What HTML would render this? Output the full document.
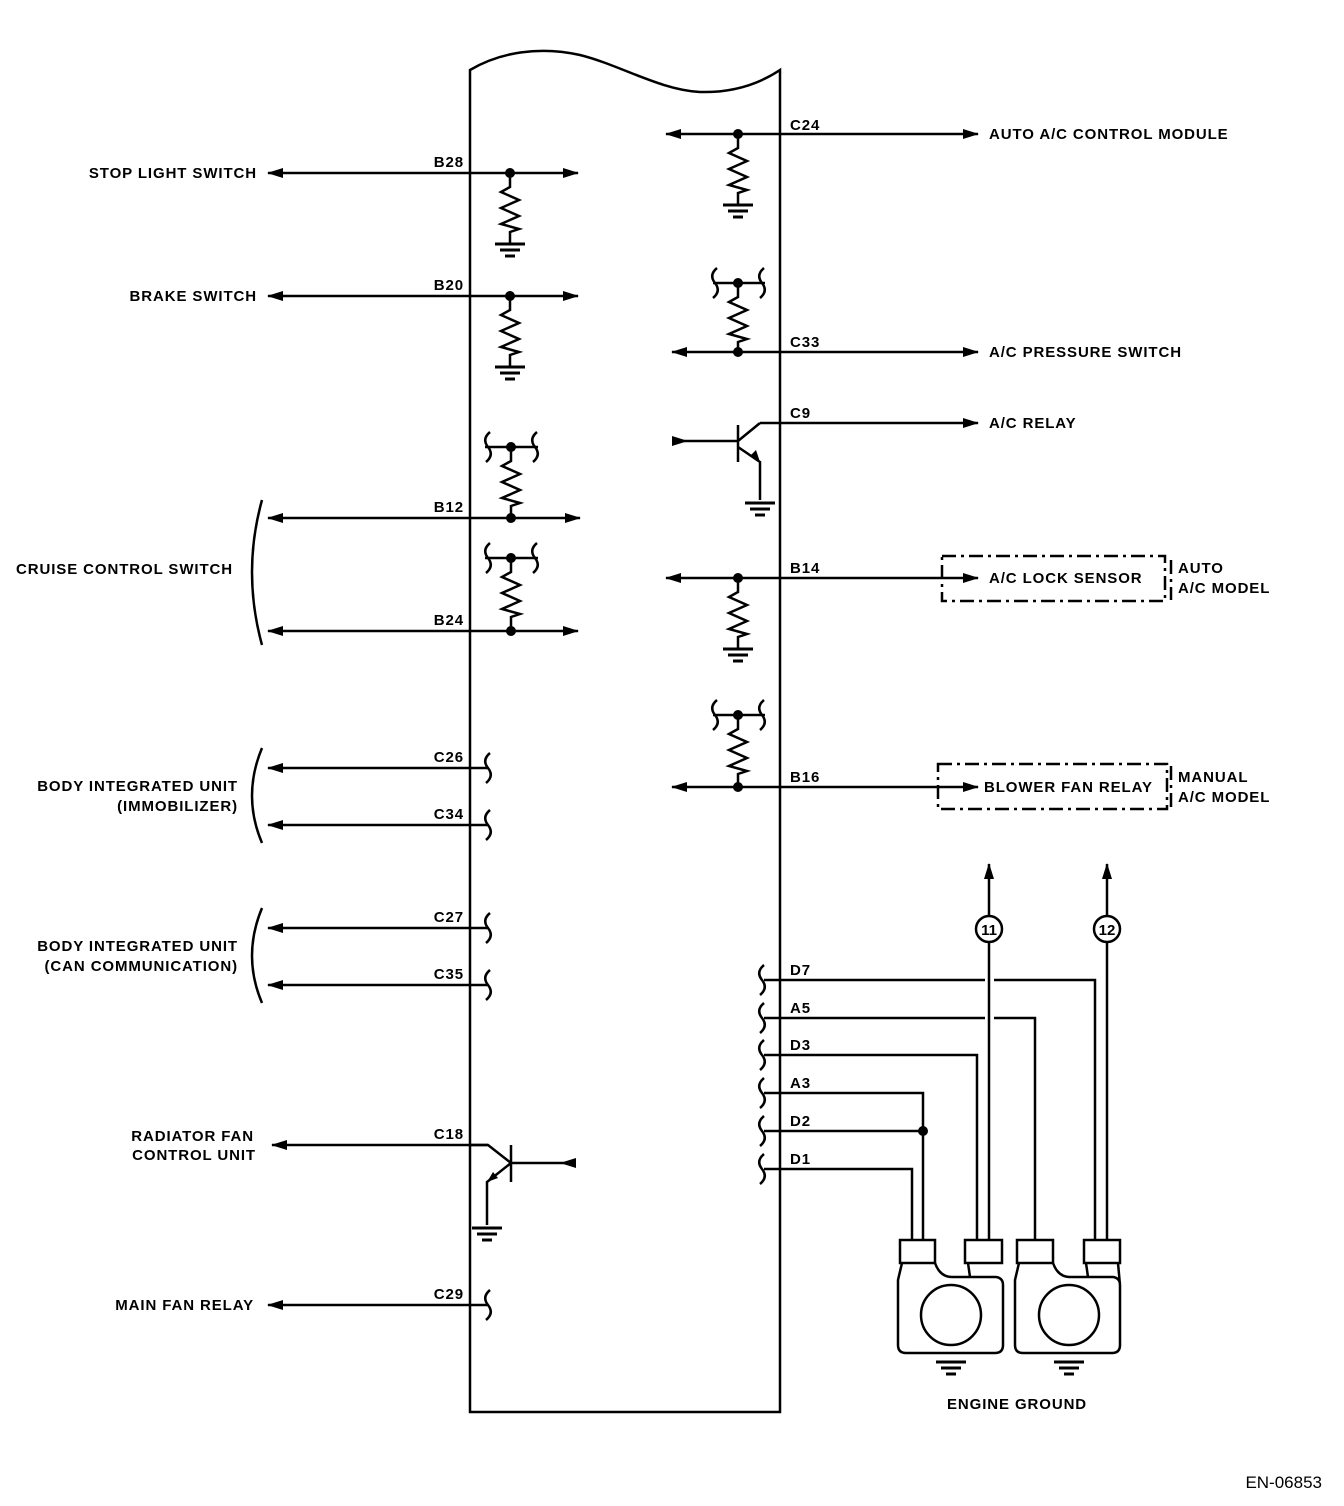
<!DOCTYPE html>
<html><head><meta charset="utf-8"><style>
html,body{margin:0;padding:0;background:#fff}
svg{display:block}
text{font-family:"Liberation Sans",sans-serif;font-weight:bold;font-size:15px;fill:#000;letter-spacing:0.9px}
</style></head><body>
<svg width="1344" height="1506" viewBox="0 0 1344 1506" xmlns="http://www.w3.org/2000/svg">
<defs>
<g id="res" fill="none" stroke="#000" stroke-width="2.5"><path d="M0,0 V14 L-9,19 L9,27 L-9,35 L9,43 L-9,51 L9,56 L0,59 V70"/></g>
<g id="gnd" stroke="#000" stroke-width="3"><path d="M-15,0 H15 M-10,6 H10 M-5,12 H5"/></g>
<g id="brk" fill="none" stroke="#000" stroke-width="2.5"><path d="M2,-15 C-4,-10 -4,-5 0,0 C4,5 4,10 -2,15"/></g>
<marker id="ar" markerWidth="16" markerHeight="10" refX="15" refY="5" orient="auto" markerUnits="userSpaceOnUse"><path d="M0,0 L16,5 L0,10 Z" fill="#000"/></marker>
</defs>
<g fill="none" stroke="#000" stroke-width="2.5">
<path d="M470,70 C500,52 540,46 580,55 C620,65 660,90 700,92 C740,93 765,80 780,70 V1412 H470 Z"/>
<path d="M510,173 H268" marker-end="url(#ar)"/><path d="M510,173 H578" marker-end="url(#ar)"/>
<path d="M510,296 H268" marker-end="url(#ar)"/><path d="M510,296 H578" marker-end="url(#ar)"/>
<path d="M511,518 H268" marker-end="url(#ar)"/><path d="M511,518 H580" marker-end="url(#ar)"/>
<path d="M511,631 H268" marker-end="url(#ar)"/><path d="M511,631 H578" marker-end="url(#ar)"/>
<path d="M488,768 H268" marker-end="url(#ar)"/>
<path d="M488,825 H268" marker-end="url(#ar)"/>
<path d="M488,928 H268" marker-end="url(#ar)"/>
<path d="M488,985 H268" marker-end="url(#ar)"/>
<path d="M488,1305 H268" marker-end="url(#ar)"/>
<path d="M488,1145 H272" marker-end="url(#ar)"/>
<path d="M485,447 H538 M485,558 H538"/>
<path d="M262,500 Q242,572 262,645"/>
<path d="M262,748 Q242,796 262,843"/>
<path d="M262,908 Q242,956 262,1003"/>
<path d="M470,1145 H488 L511,1163 M511,1145 V1182 M511,1163 H576"/>
<path d="M511,1163 L487,1182 V1225"/>
<path d="M738,134 H666" marker-end="url(#ar)"/><path d="M738,134 H978" marker-end="url(#ar)"/>
<path d="M738,352 H672" marker-end="url(#ar)"/><path d="M738,352 H978" marker-end="url(#ar)"/>
<path d="M713,283 H765"/>
<path d="M760,423 H978" marker-end="url(#ar)"/>
<path d="M672,441 H738 M738,425 V462 M738,441 L760,423 M738,447 L760,462 V500"/>
<path d="M738,578 H666" marker-end="url(#ar)"/><path d="M738,578 H978" marker-end="url(#ar)"/>
<path d="M738,787 H672" marker-end="url(#ar)"/><path d="M738,787 H978" marker-end="url(#ar)"/>
<path d="M713,715 H765"/>
<path d="M942,556 H1165 V601 H942 Z" stroke-dasharray="14,5,3,5"/>
<path d="M938,764 H1167 V809 H938 Z" stroke-dasharray="14,5,3,5"/>
<path d="M1171,560 V600 M1171,766 V808" stroke-dasharray="14,5,3,5"/>
<path d="M764,980 H985 M994,980 H1095 V1240"/>
<path d="M764,1018 H985 M994,1018 H1035 V1240"/>
<path d="M764,1055 H977 V1240"/>
<path d="M764,1093 H923 V1240"/>
<path d="M764,1131 H923"/>
<path d="M764,1169 H912 V1240"/>
<path d="M989,1240 V942 M989,916 V864" marker-end="url(#ar)"/>
<path d="M1107,1240 V942 M1107,916 V864" marker-end="url(#ar)"/>
<circle cx="989" cy="929" r="13"/><circle cx="1107" cy="929" r="13"/>
<rect x="900" y="1240" width="35" height="23"/><rect x="965" y="1240" width="37" height="23"/>
<rect x="1017" y="1240" width="36" height="23"/><rect x="1084" y="1240" width="36" height="23"/>
<path d="M902,1263 L898,1280 V1345 Q898,1353 906,1353 H995 Q1003,1353 1003,1345 V1285 Q1003,1278 996,1277 H970 L968,1263 M935,1263 Q940,1277 952,1277 H970"/>
<circle cx="951" cy="1315" r="30"/>
<path d="M1019,1263 L1015,1280 V1345 Q1015,1353 1023,1353 H1112 Q1120,1353 1120,1345 V1285 Q1120,1278 1113,1277 H1088 L1086,1263 M1053,1263 Q1058,1277 1070,1277 H1088 M1118,1263 L1120,1285"/>
<circle cx="1069" cy="1315" r="30"/>
</g>
<use href="#res" x="510" y="173"/><use href="#gnd" x="510" y="244"/>
<use href="#res" x="510" y="296"/><use href="#gnd" x="510" y="367"/>
<use href="#res" x="511" y="447"/>
<use href="#res" x="511" y="558"/>
<use href="#res" x="738" y="134"/><use href="#gnd" x="738" y="205"/>
<use href="#res" x="738" y="283"/>
<use href="#res" x="738" y="578"/><use href="#gnd" x="738" y="649"/>
<use href="#res" x="738" y="715"/>
<use href="#gnd" x="760" y="503"/>
<use href="#gnd" x="487" y="1228"/>
<use href="#gnd" x="951" y="1362"/><use href="#gnd" x="1069" y="1362"/>
<use href="#brk" x="488" y="447"/><use href="#brk" x="535" y="447"/>
<use href="#brk" x="488" y="558"/><use href="#brk" x="535" y="558"/>
<use href="#brk" x="715" y="283"/><use href="#brk" x="762" y="283"/>
<use href="#brk" x="715" y="715"/><use href="#brk" x="762" y="715"/>
<use href="#brk" x="488" y="768"/><use href="#brk" x="488" y="825"/>
<use href="#brk" x="488" y="928"/><use href="#brk" x="488" y="985"/>
<use href="#brk" x="488" y="1305"/>
<use href="#brk" x="762" y="980"/><use href="#brk" x="762" y="1018"/>
<use href="#brk" x="762" y="1055"/><use href="#brk" x="762" y="1093"/>
<use href="#brk" x="762" y="1131"/><use href="#brk" x="762" y="1169"/>
<g fill="#000">
<circle cx="510" cy="173" r="5"/><circle cx="510" cy="296" r="5"/>
<circle cx="511" cy="447" r="5"/><circle cx="511" cy="518" r="5"/>
<circle cx="511" cy="558" r="5"/><circle cx="511" cy="631" r="5"/>
<circle cx="738" cy="134" r="5"/><circle cx="738" cy="283" r="5"/><circle cx="738" cy="352" r="5"/>
<circle cx="738" cy="578" r="5"/><circle cx="738" cy="715" r="5"/><circle cx="738" cy="787" r="5"/>
<circle cx="923" cy="1131" r="5"/>
<path d="M760,462 L750,456 L756,450 Z"/>
<path d="M487,1182 L493,1172 L498,1178 Z"/>
<path d="M672,436 L688,441 L672,446 Z"/>
<path d="M576,1158 L560,1163 L576,1168 Z"/>
</g>
<g text-anchor="end">
<text x="257" y="178">STOP LIGHT SWITCH</text>
<text x="257" y="301">BRAKE SWITCH</text>
<text x="233" y="574">CRUISE CONTROL SWITCH</text>
<text x="238" y="791">BODY INTEGRATED UNIT</text>
<text x="238" y="811">(IMMOBILIZER)</text>
<text x="238" y="951">BODY INTEGRATED UNIT</text>
<text x="238" y="971">(CAN COMMUNICATION)</text>
<text x="254" y="1141">RADIATOR FAN</text>
<text x="256" y="1160">CONTROL UNIT</text>
<text x="254" y="1310">MAIN FAN RELAY</text>
<text x="464" y="167">B28</text><text x="464" y="290">B20</text>
<text x="464" y="512">B12</text><text x="464" y="625">B24</text>
<text x="464" y="762">C26</text><text x="464" y="819">C34</text>
<text x="464" y="922">C27</text><text x="464" y="979">C35</text>
<text x="464" y="1139">C18</text><text x="464" y="1299">C29</text>
<text x="1322" y="1488" style="font-weight:normal;font-size:17px;letter-spacing:0">EN-06853</text>
</g>
<text x="790" y="130">C24</text><text x="790" y="347">C33</text>
<text x="790" y="418">C9</text><text x="790" y="573">B14</text><text x="790" y="782">B16</text>
<text x="790" y="975">D7</text><text x="790" y="1013">A5</text><text x="790" y="1050">D3</text>
<text x="790" y="1088">A3</text><text x="790" y="1126">D2</text><text x="790" y="1164">D1</text>
<text x="989" y="139">AUTO A/C CONTROL MODULE</text>
<text x="989" y="357">A/C PRESSURE SWITCH</text>
<text x="989" y="428">A/C RELAY</text>
<text x="989" y="583">A/C LOCK SENSOR</text>
<text x="984" y="792">BLOWER FAN RELAY</text>
<text x="1178" y="573">AUTO</text><text x="1178" y="593">A/C MODEL</text>
<text x="1178" y="782">MANUAL</text><text x="1178" y="802">A/C MODEL</text>
<text x="947" y="1409">ENGINE GROUND</text>
<text x="989" y="935" text-anchor="middle" font-size="16" style="letter-spacing:0">11</text>
<text x="1107" y="935" text-anchor="middle" font-size="16" style="letter-spacing:0">12</text>
</svg>
</body></html>
